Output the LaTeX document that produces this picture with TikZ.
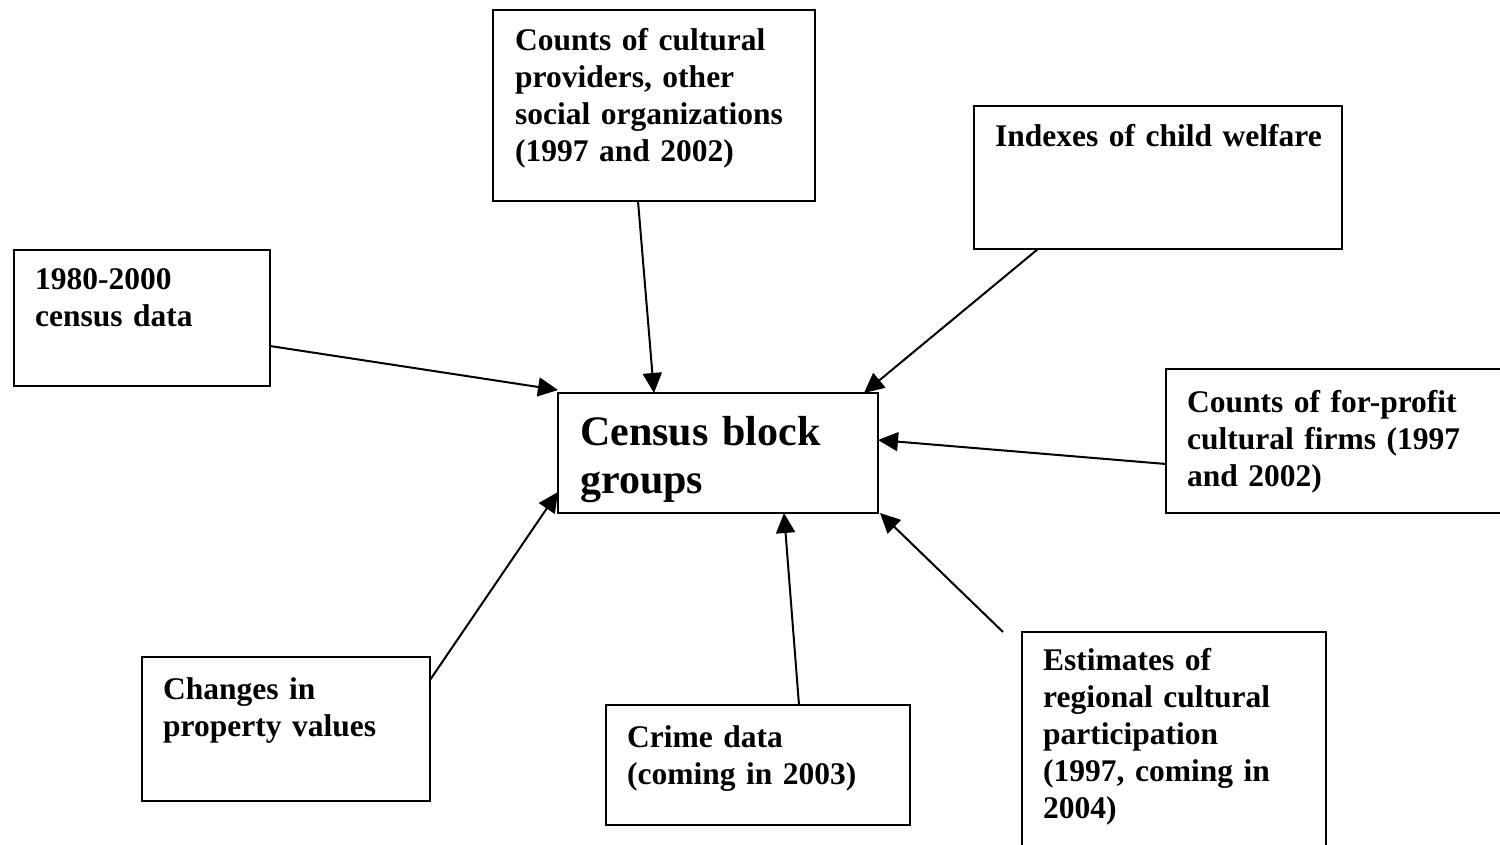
\documentclass[tikz,border=0pt]{standalone}
\usepackage{fontspec}
\setmainfont{Liberation Serif}
\usetikzlibrary{arrows.meta}
\tikzset{
  sources/.style={x=1pt,y=-1pt},
  panel/.style={draw,line width=2pt,inner sep=0pt,outer sep=0pt},
  blurb/.style={font=\fontsize{31.5}{37}\selectfont\bfseries,text width=380pt,align=left,inner sep=0pt,anchor=base west},
  feed/.style={-{Triangle[length=20pt,width=19pt]},line width=2pt}
}

\begin{document}
\begin{tikzpicture}[sources]
    \useasboundingbox (0,0) rectangle (1500,845);
    \clip (0,0) rectangle (1500,845);
    \node[panel,minimum width=322,minimum height=191] (cult)    at (654,105.5) {};
    \node[panel,minimum width=368,minimum height=143] (child)   at (1158,177.5) {};
    \node[panel,minimum width=256,minimum height=136] (c1980)   at (142,318) {};
    \node[panel,minimum width=320,minimum height=120] (blocks)  at (718,453) {};
    \node[panel,minimum width=374,minimum height=144] (firms)   at (1353,441) {};
    \node[panel,minimum width=288,minimum height=144] (changes) at (286,729) {};
    \node[panel,minimum width=304,minimum height=120] (crime)   at (758,765) {};
    \node[panel,minimum width=304,minimum height=248] (est)     at (1174,756) {};
    \node[blurb] (cult-t)    at (515,51)  {Counts of cultural\\providers, other\\social organizations\\(1997 and 2002)};
    \node[blurb] (child-t)   at (995,147) {Indexes of child welfare};
    \node[blurb] (c1980-t)   at (35,290)  {1980-2000\\census data};
    \node[blurb,font=\fontsize{42}{48}\selectfont\bfseries] (blocks-t) at (580,445) {Census block\\groups};
    \node[blurb] (firms-t)   at (1187,412) {Counts of for-profit\\cultural firms (1997\\and 2002)};
    \node[blurb] (changes-t) at (163,699) {Changes in\\property values};
    \node[blurb] (crime-t)   at (627,747) {Crime data\\(coming in 2003)};
    \node[blurb] (est-t)     at (1043,670) {Estimates of\\regional cultural\\participation\\(1997, coming in\\2004)};
    \draw[feed] ([xshift=-16pt]cult.south) -- ([xshift=-64pt]blocks.north);
    \draw[feed] ([xshift=-120pt]child.south) -- ([xshift=-14pt]blocks.north east);
    \draw[feed] ([yshift=-28pt]c1980.east) -- ([yshift=3pt]blocks.north west);
    \draw[feed] ([yshift=-23pt]firms.west) -- ([yshift=13pt]blocks.east);
    \draw[feed] ([yshift=49pt]changes.east) -- ([yshift=21pt]blocks.south west);
    \draw[feed] ([xshift=41pt]crime.north) -- ([xshift=66pt]blocks.south);
    \draw[feed] ([xshift=-19pt]est.north west) -- ([xshift=2pt]blocks.south east);
\end{tikzpicture}
\end{document}
